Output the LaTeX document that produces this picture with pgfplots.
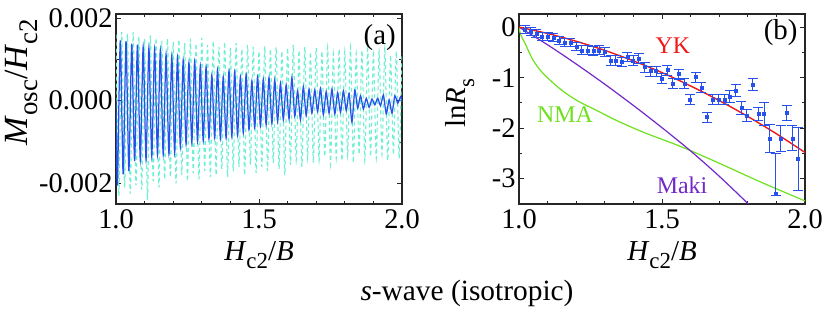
\documentclass[border=0pt]{standalone}
\usepackage{fontspec}
\setmainfont{Liberation Serif}
\usepackage{pgfplots}
\pgfplotsset{compat=1.18}
\usepackage{pgfplotstable}
\definecolor{ptblue}{RGB}{40,80,235}
\definecolor{ptcyan}{RGB}{110,240,210}
\definecolor{ptgreen}{RGB}{110,225,30}
\definecolor{ptpurple}{RGB}{115,40,200}
\definecolor{ptred}{RGB}{240,25,25}
\newcommand{\sub}[1]{\raisebox{-0.28em}{\fontsize{23}{26}\selectfont #1}}
\newcommand{\subL}[1]{\raisebox{-0.28em}{\fontsize{27}{30}\selectfont #1}}

\pgfplotstableread{
x y ep em
1.021 -0.05 0.08 0.08
1.041 -0.09 0.08 0.08
1.061 -0.13 0.08 0.08
1.081 -0.18 0.08 0.08
1.101 -0.19 0.08 0.08
1.120 -0.21 0.08 0.08
1.140 -0.26 0.08 0.08
1.160 -0.31 0.08 0.08
1.180 -0.31 0.08 0.08
1.200 -0.39 0.08 0.08
1.220 -0.46 0.09 0.09
1.240 -0.46 0.09 0.09
1.260 -0.47 0.09 0.09
1.280 -0.46 0.09 0.09
1.300 -0.49 0.09 0.09
1.320 -0.66 0.09 0.09
1.339 -0.66 0.09 0.09
1.359 -0.69 0.09 0.09
1.379 -0.59 0.09 0.09
1.399 -0.66 0.09 0.09
1.419 -0.62 0.10 0.10
1.439 -0.79 0.10 0.10
1.459 -0.87 0.10 0.10
1.479 -0.87 0.10 0.10
1.499 -1.02 0.10 0.10
1.519 -0.85 0.10 0.10
1.538 -1.11 0.10 0.10
1.558 -0.93 0.10 0.10
1.578 -1.12 0.10 0.10
1.598 -1.44 0.10 0.10
1.618 -0.99 0.10 0.10
1.638 -1.20 0.10 0.10
1.658 -1.78 0.10 0.10
1.678 -1.43 0.10 0.10
1.698 -1.43 0.10 0.10
1.718 -1.43 0.10 0.10
1.737 -1.38 0.12 0.12
1.757 -1.25 0.12 0.12
1.777 -1.60 0.12 0.12
1.797 -1.75 0.12 0.12
1.817 -1.13 0.12 0.12
1.837 -1.72 0.12 0.12
1.857 -1.72 0.23 0.23
1.877 -2.21 0.28 0.28
1.897 -3.29 0.79 0.05
1.916 -2.21 0.26 0.26
1.936 -1.70 0.15 0.15
1.956 -2.20 0.25 0.25
1.976 -2.61 0.63 0.63
}\rsdata

\begin{document}
\begin{tikzpicture}
\useasboundingbox (0,0) rectangle (823bp,309bp);
\pgfplotsset{
  every axis/.append style={
    scale only axis, width=286bp, height=190bp,
    xmin=1, xmax=2,
    xtick={1,1.5,2}, xticklabels={1.0,1.5,2.0}, minor x tick num=4,
    minor y tick num=1,
    tick align=inside, major tick length=5bp, minor tick length=3bp,
    axis line style={line width=1.1bp, black!85},
    every tick/.style={line width=0.9bp, black!85},
    ticklabel style={font=\fontsize{28.5}{32}\selectfont},
    label style={font=\fontsize{29}{32}\selectfont},
    xlabel style={at={(axis description cs:0.5,-0.268)}, anchor=center},
    xticklabel style={yshift=-2bp},
  }
}
% ---------- panel (a)
\begin{axis}[
  at={(116bp,105bp)}, anchor=south west,
  ymin=-2.5, ymax=2.1,
  ytick={-2,0,2}, yticklabels={-0.002,0.000,0.002},
  xlabel={\textit{H}\sub{c2}/\textit{B}},
  ylabel={\fontsize{34}{36}\selectfont\textit{M}\subL{osc}/\textit{H}\subL{c2}},
  ylabel style={at={(axis description cs:-0.33,0.64)}, anchor=center},
]
\addplot[ptcyan, line width=1.1bp, dash pattern=on 4bp off 3bp, smooth, tension=0.4] coordinates {
(1.000,1.60)
(1.010,-2.30) (1.020,1.66) (1.030,-2.10) (1.040,1.62) (1.050,-2.25) (1.060,1.66)
(1.070,-2.05) (1.080,1.55) (1.090,-2.15) (1.100,1.50) (1.110,-2.40) (1.120,1.58)
(1.130,-1.95) (1.140,1.52) (1.150,-2.10) (1.160,1.45) (1.170,-1.90) (1.180,1.50)
(1.190,-1.85) (1.200,1.42) (1.210,-2.00) (1.220,1.48) (1.230,-1.80) (1.240,1.40)
(1.250,-1.95) (1.260,1.50) (1.270,-1.75) (1.280,1.38) (1.290,-1.90) (1.300,1.52)
(1.310,-1.70) (1.320,1.35) (1.330,-1.85) (1.340,1.45) (1.350,-1.80) (1.360,1.30)
(1.370,-1.65) (1.380,1.42) (1.390,-1.85) (1.400,1.28) (1.410,-1.70) (1.420,1.40)
(1.430,-1.60) (1.440,1.25) (1.450,-1.80) (1.460,1.35) (1.470,-1.55) (1.480,1.30)
(1.490,-1.75) (1.500,1.20) (1.510,-1.60) (1.520,1.32) (1.530,-1.70) (1.540,1.25)
(1.550,-1.50) (1.560,1.30) (1.570,-1.65) (1.580,1.20) (1.590,-1.80) (1.600,1.28)
(1.610,-1.55) (1.620,1.35) (1.630,-1.45) (1.640,1.22) (1.650,-1.60) (1.660,1.30)
(1.670,-1.40) (1.680,1.18) (1.690,-1.50) (1.700,1.28) (1.710,-1.45) (1.720,1.20)
(1.730,-1.35) (1.740,1.30) (1.750,-1.55) (1.760,1.15) (1.770,-1.40) (1.780,1.25)
(1.790,-1.45) (1.800,1.20) (1.810,-1.35) (1.820,1.30) (1.830,-1.50) (1.840,1.15)
(1.850,-1.30) (1.860,1.22) (1.870,-1.45) (1.880,1.25) (1.890,-1.35) (1.900,1.12)
(1.910,-1.40) (1.920,1.20) (1.930,-1.30) (1.940,1.28) (1.950,-1.45) (1.960,1.10)
(1.970,-1.30) (1.980,1.20) (1.990,-1.40) (2.000,1.15)
};
\addplot[ptblue, line width=1.25bp, smooth, tension=0.4] coordinates {
(1.000,0.00)
(1.005,-2.02) (1.015,1.46) (1.025,-1.78) (1.035,1.44) (1.045,-1.70) (1.055,1.38)
(1.065,-1.46) (1.075,1.36) (1.085,-1.44) (1.095,1.30) (1.105,-1.42) (1.115,1.28)
(1.125,-1.35) (1.135,1.25) (1.145,-1.30) (1.155,1.22) (1.165,-1.30) (1.175,1.12)
(1.185,-1.28) (1.195,1.08) (1.205,-1.26) (1.215,1.05) (1.225,-1.12) (1.235,0.98)
(1.245,-1.05) (1.255,0.92) (1.265,-1.02) (1.275,0.95) (1.285,-0.98) (1.295,0.85)
(1.305,-0.97) (1.315,0.82) (1.325,-0.92) (1.335,0.62) (1.345,-0.90) (1.355,0.75)
(1.365,-0.92) (1.375,0.58) (1.385,-0.90) (1.395,0.72) (1.405,-0.86) (1.415,0.70)
(1.425,-0.84) (1.435,0.58) (1.445,-0.78) (1.455,0.64) (1.465,-0.70) (1.475,0.48)
(1.485,-0.66) (1.495,0.58) (1.505,-0.62) (1.515,0.52) (1.525,-0.58) (1.535,0.56)
(1.545,-0.54) (1.555,0.50) (1.565,-0.50) (1.575,0.42) (1.585,-0.46) (1.595,0.38)
(1.605,-0.44) (1.615,0.56) (1.625,-0.38) (1.635,0.24) (1.645,-0.46) (1.655,0.34)
(1.665,-0.36) (1.675,0.28) (1.685,-0.30) (1.695,0.26) (1.705,-0.26) (1.715,0.30)
(1.725,-0.34) (1.735,0.22) (1.745,-0.30) (1.755,0.28) (1.765,-0.32) (1.775,0.20)
(1.785,-0.28) (1.795,0.24) (1.805,-0.24) (1.815,0.18) (1.825,-0.52) (1.835,0.26)
(1.845,-0.18) (1.855,0.12) (1.865,-0.20) (1.875,0.06) (1.885,-0.16) (1.895,0.04)
(1.905,-0.10) (1.915,0.06) (1.925,-0.12) (1.935,0.14) (1.945,-0.32) (1.955,0.02)
(1.965,-0.30) (1.975,0.12) (1.985,-0.06) (1.995,0.10) (2.000,0.00)
};
\node[font=\fontsize{29}{33}\selectfont] at (axis cs:1.922,1.53) {(a)};
\end{axis}
% ---------- panel (b)
\begin{axis}[
  at={(519bp,105bp)}, anchor=south west,
  ymin=-3.5, ymax=0.26,
  ytick={-3,-2,-1,0}, yticklabels={-3,-2,-1,0},
  xlabel={\textit{H}\sub{c2}/\textit{B}},
  ylabel={ln\textit{R}\sub{s}},
  ylabel style={at={(axis description cs:-0.206,0.53)}, anchor=center},
]
\addplot[ptgreen, line width=1.2bp, smooth, tension=0.5] coordinates {
(1.000,0.00) (1.006,-0.15) (1.021,-0.32) (1.050,-0.66) (1.085,-0.92) (1.143,-1.22)
(1.202,-1.45) (1.272,-1.65) (1.342,-1.85) (1.435,-2.08) (1.551,-2.33)
(1.627,-2.51) (1.726,-2.76) (1.843,-3.06) (2.000,-3.44)
};
\addplot[ptpurple, line width=1.2bp, smooth] coordinates {
(1.000,0.00) (1.100,-0.35) (1.200,-0.73) (1.300,-1.13) (1.400,-1.55)
(1.500,-1.99) (1.600,-2.45) (1.700,-2.95) (1.800,-3.49) (1.850,-3.78)
};
\addplot[ptred, line width=1.4bp, smooth] coordinates {
(1.0,0.0) (1.1,-0.126) (1.2,-0.28) (1.3,-0.46) (1.4,-0.668) (1.5,-0.90)
(1.6,-1.164) (1.7,-1.453) (1.8,-1.768) (1.9,-2.11) (2.0,-2.48)
};
\addplot[only marks, mark=square*, mark size=1.5bp, ptblue,
  mark options={ptblue},
  error bars/.cd, y dir=both, y explicit,
  error bar style={line width=1bp, ptblue},
  error mark options={rotate=90, mark size=5bp, line width=1bp, ptblue}]
  table[x=x, y=y, y error plus=ep, y error minus=em] {\rsdata};
\node[font=\fontsize{29}{33}\selectfont] at (axis cs:1.915,-0.10) {(b)};
\node[font=\fontsize{24}{28}\selectfont, text=ptred] at (axis cs:1.538,-0.37) {YK};
\node[font=\fontsize{24}{28}\selectfont, text=ptgreen] at (axis cs:1.161,-1.74) {NMA};
\node[font=\fontsize{24}{28}\selectfont, text=ptpurple] at (axis cs:1.57,-3.13) {Maki};
\end{axis}
\node[font=\fontsize{29.5}{33}\selectfont] at (467bp,16bp) {\textit{s}-wave (isotropic)};
\end{tikzpicture}
\end{document}
